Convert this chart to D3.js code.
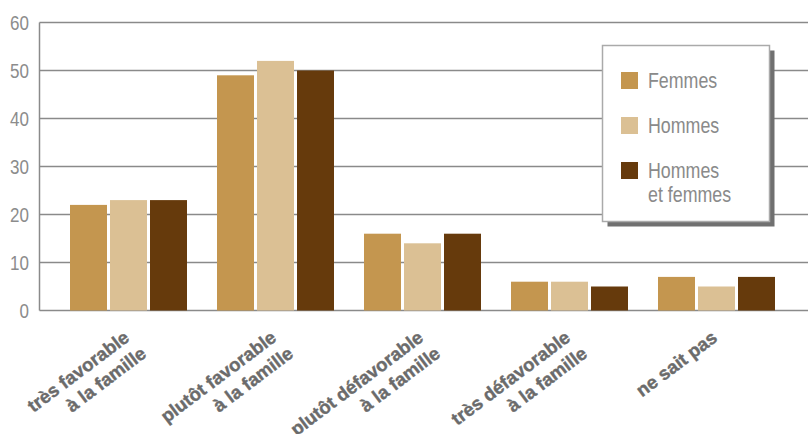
<!DOCTYPE html>
<html>
<head>
<meta charset="utf-8">
<script src="https://cdn.jsdelivr.net/npm/d3@7"></script>
<style>
  body { margin: 0; background: #fff; }
  text { font-family: "Liberation Sans", Arial, sans-serif; }
</style>
</head>
<body>
<div id="chart"></div>
<script>
// categories and series
const categories = [
  ["très favorable", "à la famille"],
  ["plutôt favorable", "à la famille"],
  ["plutôt défavorable", "à la famille"],
  ["très défavorable", "à la famille"],
  ["ne sait pas"]
];
const femmes = [22, 49, 16, 6, 7];
const hommes = [23, 52, 14, 6, 5];
const ensemble = [23, 50, 16, 5, 7];
const seriesNames = ["Femmes", "Hommes", "Hommes\net femmes"];
const yTicks = [0, 10, 20, 30, 40, 50, 60];

const colors = ["#c4964f", "#dbc094", "#663a0c"];
const width = 808, height = 434;
const narrow = 0.81; // the original uses a condensed face

const svg = d3.select("#chart").append("svg")
  .attr("width", width)
  .attr("height", height);

const y = d3.scaleLinear().domain([0, 60]).range([310.5, 22.5]);
const x0 = d3.scaleBand().domain(d3.range(categories.length)).range([55, 790]);
const x1 = d3.scaleBand().domain(d3.range(3)).range([15, 132]).paddingInner(3 / 40);

// gridlines
svg.append("g")
  .selectAll("line")
  .data(yTicks)
  .enter().append("line")
  .attr("x1", 39.5).attr("x2", width)
  .attr("y1", d => y(d)).attr("y2", d => y(d))
  .style("stroke", "#8a8a8a")
  .style("stroke-width", 1.5);

svg.append("line")
  .attr("x1", 39.5).attr("x2", 39.5)
  .attr("y1", y(60)).attr("y2", y(0))
  .style("stroke", "#8a8a8a")
  .style("stroke-width", 1.5);

// y tick labels
svg.append("g")
  .selectAll("text")
  .data(yTicks)
  .enter().append("text")
  .attr("transform", d => "translate(29," + y(d) + ") scale(" + narrow + ",1)")
  .attr("dy", "0.36em")
  .attr("text-anchor", "end")
  .style("font-size", "21px")
  .style("fill", "#8c8c8c")
  .text(d => d);

// bars
const rows = categories.map((c, i) => [femmes[i], hommes[i], ensemble[i]]);
svg.append("g")
  .selectAll("g")
  .data(rows)
  .enter().append("g")
  .attr("transform", (d, i) => "translate(" + x0(i) + ",0)")
  .selectAll("rect")
  .data(d => d)
  .enter().append("rect")
  .attr("x", (d, j) => x1(j))
  .attr("width", x1.bandwidth())
  .attr("y", d => y(d))
  .attr("height", d => y(0) - y(d))
  .style("fill", (d, j) => colors[j]);

// category labels
const labels = svg.append("g")
  .selectAll("text")
  .data(categories)
  .enter().append("text")
  .attr("transform", (d, i) => "translate(" + (x0(i) + x0.bandwidth() / 2 + 2) + ",340) rotate(-37)")
  .attr("text-anchor", "end")
  .style("font-size", "18.5px")
  .style("font-weight", "bold")
  .style("fill", "#6b6b6b")
  .style("stroke", "#6b6b6b")
  .style("stroke-width", 0.4);
labels.selectAll("tspan")
  .data(d => d)
  .enter().append("tspan")
  .attr("x", (d, k) => k * 4)
  .attr("dy", (d, k) => k === 0 ? 0 : 23)
  .text(d => d);

// legend
const lg = svg.append("g");
lg.append("rect")
  .attr("x", 607.5).attr("y", 50.5)
  .attr("width", 167).attr("height", 176)
  .style("fill", "#707070");
lg.append("rect")
  .attr("x", 602.5).attr("y", 45.5)
  .attr("width", 167).attr("height", 176)
  .style("fill", "#fff")
  .style("stroke", "#aaaaaa")
  .style("stroke-width", 1.5);

const legendY = [72, 117, 162];
seriesNames.forEach((name, i) => {
  lg.append("rect")
    .attr("x", 621).attr("y", legendY[i])
    .attr("width", 17).attr("height", 17)
    .style("fill", colors[i]);
  const t = lg.append("text")
    .attr("transform", "translate(648," + (legendY[i] + 16) + ") scale(" + narrow + ",1)")
    .style("font-size", "22px")
    .style("fill", "#8a8a8a");
  name.split("\n").forEach((line, k) => {
    t.append("tspan").attr("x", 0).attr("dy", k === 0 ? 0 : 24).text(line);
  });
});
</script>
</body>
</html>
